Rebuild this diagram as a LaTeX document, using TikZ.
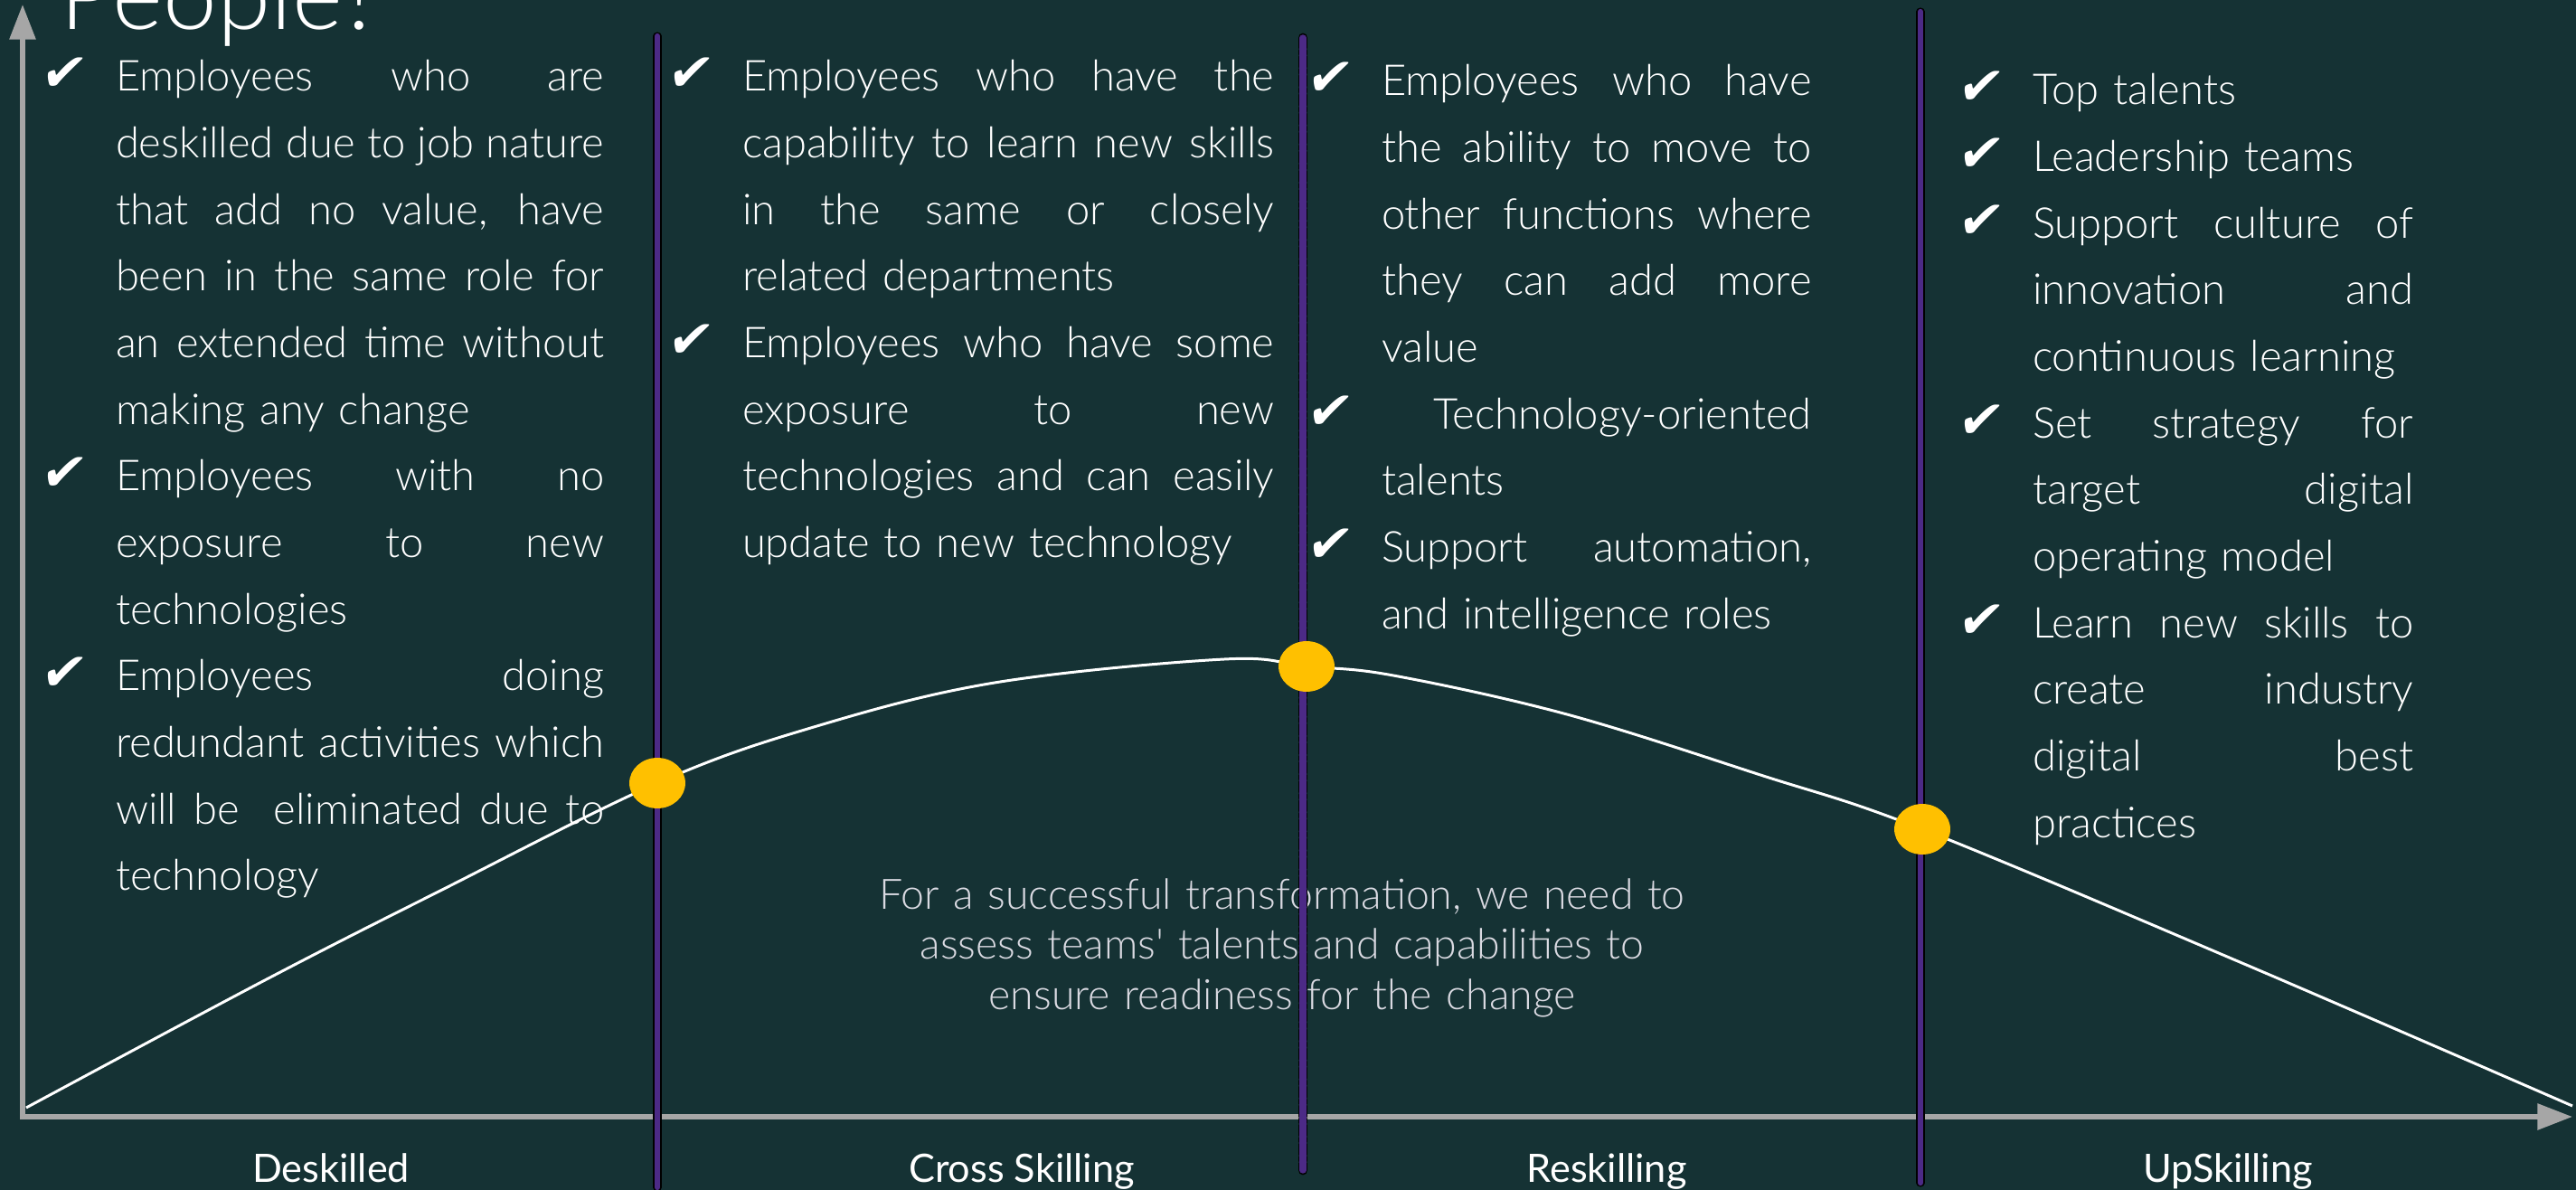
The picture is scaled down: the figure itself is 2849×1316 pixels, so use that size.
\documentclass[tikz,border=0pt]{standalone}
\usepackage{fontspec}
\setmainfont{Lato}[UprightFont=* Light,Ligatures=TeXOff]
\newfontfamily\labelfont{Lato}
\newfontfamily\tickfont{DejaVu Sans}[FakeSlant=0.18]
\usetikzlibrary{arrows.meta,shapes.geometric}
\definecolor{boardbg}{RGB}{21,50,52}
\definecolor{axisgray}{RGB}{166,166,166}
\definecolor{stagepurple}{RGB}{76,42,134}
\definecolor{pointgold}{RGB}{255,192,0}
\definecolor{notegray}{RGB}{218,218,226}
\newcommand{\bodysize}{\fontsize{13.4pt}{20.94pt}\selectfont}
% justified line: undo the fixed word spacing of align=left
\newcommand{\jline}[1]{\makebox[\hsize][s]{\spaceskip=0pt\xspaceskip=0pt\relax#1}}
\newcommand{\tick}{\leavevmode\llap{\makebox[34.1pt][c]{\tickfont\fontsize{16.5pt}{16.5pt}\selectfont ✔}}}

\begin{document}
\begin{tikzpicture}[x=.01cm,y=-.01cm,
    every node/.style={inner sep=0pt,outer sep=0pt,text=white},
    skillcol/.style={anchor=base west,align=left,font=\bodysize},
    stagename/.style={anchor=base,font=\labelfont\fontsize{12.3pt}{14pt}\selectfont},
    stageedge/.style={line width=2.6pt,line cap=round,draw=black},
    stagecore/.style={line width=1.8pt,line cap=round,draw=stagepurple},
    axis/.style={axisgray,line width=1.6pt,-{Triangle[length=11pt,width=8pt]}},
    marker/.style={ellipse,fill=pointgold,minimum width=17.6pt,minimum height=15.9pt}]
  \useasboundingbox (0,0) rectangle (2849,1316);
  \clip (0,0) rectangle (2849,1316);
  \fill[boardbg] (0,0) rectangle (2849,1316);
  \node[anchor=base west,font=\fontsize{30.5pt}{32pt}\selectfont] (title) at (66,33) {People?};

  % axes
  \draw[axis] (25,1238) -- (25,5);
  \draw[axis] (22,1235) -- (2845,1235);

  % what each group looks like
  \node[skillcol,text width=153.6pt] (deskilled) at (128,101) {%
    \tick\jline{Employees who are}\\
    \jline{deskilled due to job nature}\\
    \jline{that add no value, have}\\
    \jline{been in the same role for}\\
    \jline{an extended time without}\\
    making any change\\
    \tick\jline{Employees with no}\\
    \jline{exposure to new}\\
    technologies\\
    \tick\jline{Employees doing}\\
    \jline{redundant activities which}\\
    \jline{will be\ \ eliminated due to}\\
    technology};
  \node[skillcol,text width=167.3pt] (crossskill) at (821,101) {%
    \tick\jline{Employees who have the}\\
    \jline{capability to learn new skills}\\
    \jline{in the same or closely}\\
    related departments\\
    \tick\jline{Employees who have some}\\
    \jline{exposure to new}\\
    \jline{technologies and can easily}\\
    update to new technology};
  \node[skillcol,text width=135.2pt] (reskill) at (1528,106) {%
    \tick\jline{Employees who have}\\
    \jline{the ability to move to}\\
    \jline{other functions where}\\
    \jline{they can add more}\\
    value\\
    \tick\jline{\hfill Technology-oriented}\\
    talents\\
    \tick\jline{Support automation,}\\
    and intelligence roles};
  \node[skillcol,text width=119.8pt] (upskill) at (2248,116) {%
    \tick Top talents\\
    \tick Leadership teams\\
    \tick\jline{Support culture of}\\
    \jline{innovation and}\\
    continuous learning\\
    \tick\jline{Set strategy for}\\
    \jline{target digital}\\
    operating model\\
    \tick\jline{Learn new skills to}\\
    \jline{create industry}\\
    \jline{digital best}\\
    practices};

  \node[anchor=base,align=center,text width=340pt,text=notegray,
    font=\fontsize{13.2pt}{15.8pt}\selectfont] (note) at (1418,1005)
    {For a successful transformation, we need to\\
     assess teams' talents and capabilities to\\
     ensure readiness for the change};

  \node[stagename] (lbl1) at (366,1307) {Deskilled};
  \node[stagename] (lbl2) at (1130,1307) {Cross Skilling};
  \node[stagename] (lbl3) at (1777,1307) {Reskilling};
  \node[stagename] (lbl4) at (2464,1307) {UpSkilling};

  % stage borders
  \draw[stageedge] (727,40) -- (727,1313);
  \draw[stagecore] (727,40) -- (727,1313);
  \draw[stageedge,line width=3.1pt,dash pattern=on 3pt off 1pt on 1pt off 1pt] (1441,42) -- (1441,1294);
  \draw[stagecore,line width=2.1pt] (1441,42) -- (1441,1294);
  \draw[stageedge] (2124,13) -- (2124,1308);
  \draw[stagecore] (2124,13) -- (2124,1308);

  % readiness curve
  \coordinate (p1) at (727,866);
  \coordinate (p2) at (1445,737);
  \coordinate (p3) at (2126,917);
  \draw[white,line width=.85pt] plot[smooth,tension=.6] coordinates {(29,1225) (291,1085) (485,986) (p1)
    (900,804) (1100,755) (1354,729) (p2) (1541,747) (1733,790) (1947,857) (p3) (2482,1066) (2845,1223)};
  \node[marker] (m1) at (p1) {};
  \node[marker] (m2) at (p2) {};
  \node[marker] (m3) at (p3) {};
\end{tikzpicture}
\end{document}
